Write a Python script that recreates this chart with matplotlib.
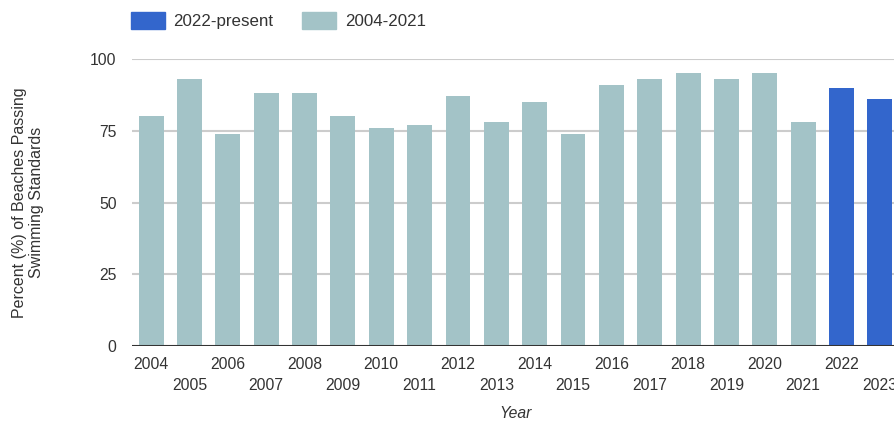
"""Beaches passing swimming standards, by year."""

import matplotlib
matplotlib.use('Agg')
import matplotlib.pyplot as plt
from matplotlib.patches import Patch

years = [2004, 2005, 2006, 2007, 2008, 2009, 2010, 2011, 2012, 2013,
         2014, 2015, 2016, 2017, 2018, 2019, 2020, 2021, 2022, 2023]
percent_passing = [80, 93, 74, 88, 88, 80, 76, 77, 87, 78,
                   85, 74, 91, 93, 95, 93, 95, 78, 90, 86]
present_start = 2022
series_labels = ['2022-present', '2004-2021']
yticks = [0, 25, 50, 75, 100]

TEAL = '#a3c3c7'
BLUE = '#3366cc'
TEXT = '#333333'

plt.rcParams['font.family'] = ['Liberation Sans', 'DejaVu Sans']

fig = plt.figure(figsize=(8.95, 4.23), dpi=100)
# plot area runs a little past the right edge, as in the original
ax = fig.add_axes([132 / 895, 1 - 346 / 423, 767 / 895, 287 / 423])

colors = [BLUE if y >= present_start else TEAL for y in years]
pos = list(range(len(years)))
ax.bar(pos, percent_passing, width=0.65, color=colors, zorder=3)

ax.set_xlim(-0.5, len(years) - 0.5)
ax.set_ylim(0, 100)
ax.set_yticks(yticks)
ax.set_yticklabels([str(t) for t in yticks])
ax.yaxis.grid(True, color='#cccccc', linewidth=1.5, zorder=0)
ax.axhline(0, color='#333333', linewidth=2.2, zorder=4)

ax.set_xticks(pos)
ax.set_xticklabels([str(y) if i % 2 == 0 else '\n' + str(y)
                    for i, y in enumerate(years)], linespacing=1.45)
ax.tick_params(axis='both', length=0, labelsize=11.3, labelcolor=TEXT)
ax.tick_params(axis='x', pad=8)
ax.tick_params(axis='y', pad=11)
for s in ax.spines.values():
    s.set_visible(False)

ax.set_xlabel('Year', fontsize=11.3, style='italic', color=TEXT, labelpad=10)
ax.set_ylabel('Percent (%) of Beaches Passing\nSwimming Standards',
              fontsize=11.5, color=TEXT, labelpad=0)
ax.yaxis.set_label_coords(-88 / 767, 0.5)

handles = [Patch(color=BLUE), Patch(color=TEAL)]
fig.legend(handles, series_labels, loc='upper left',
           bbox_to_anchor=(116 / 895, 1.007), ncol=2, frameon=False,
           fontsize=12.2, handlelength=2.0, handleheight=1.1,
           columnspacing=1.7, handletextpad=0.5, labelcolor=TEXT)

fig.savefig('out.png', dpi=100)
